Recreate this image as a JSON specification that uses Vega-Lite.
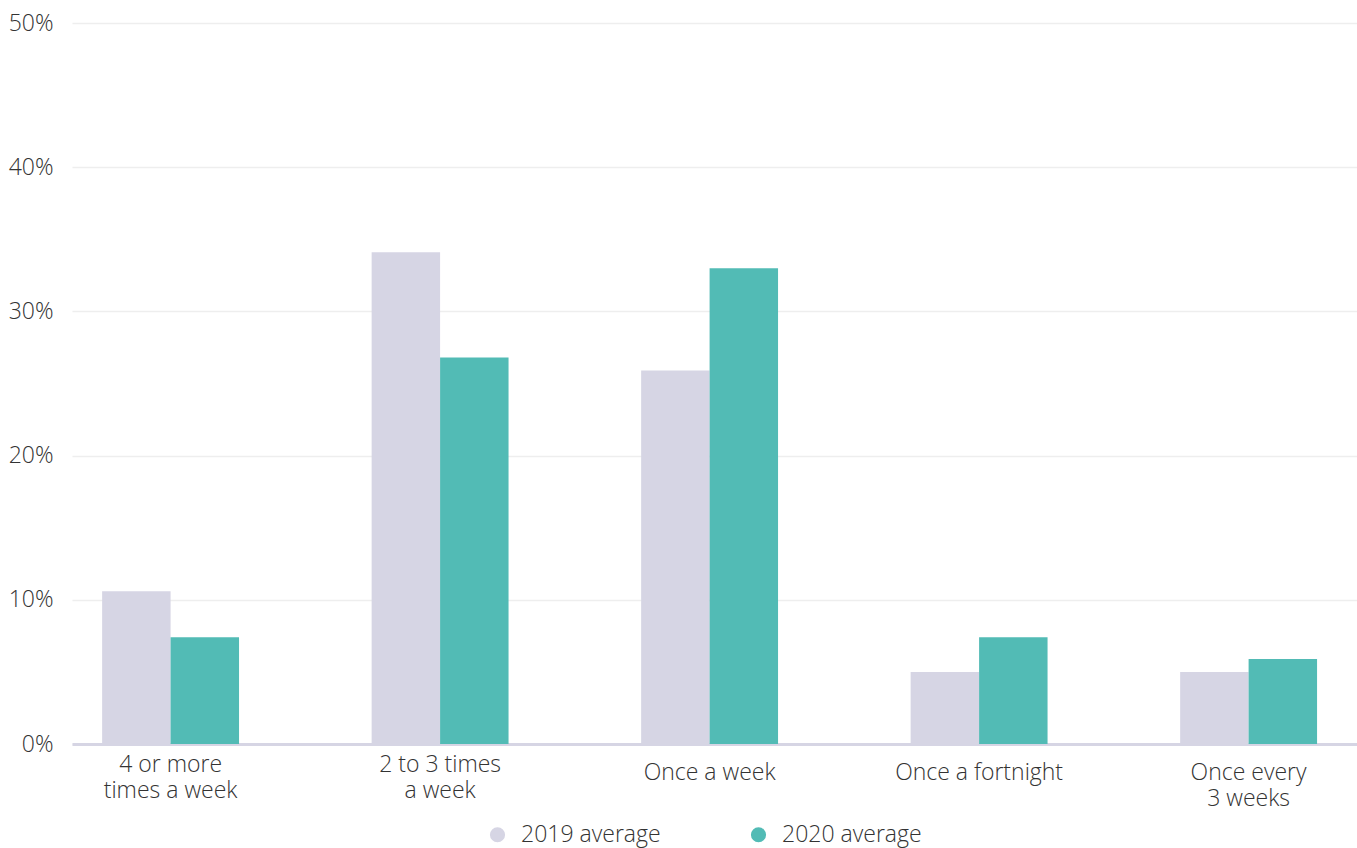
{
  "$schema": "https://vega.github.io/schema/vega-lite/v6.json",
  "autosize": {"type": "none"},
  "padding": {"left": 72, "top": 23, "right": 0, "bottom": 104},
  "width": 1285,
  "height": 721,
  "background": "#ffffff",
  "config": {
    "font": "Open Sans",
    "view": {"stroke": null}
  },
  "data": {
    "values": [
      {"frequency": "4 or more times a week", "series": "2019 average", "value": 10.6},
      {"frequency": "4 or more times a week", "series": "2020 average", "value": 7.4},
      {"frequency": "2 to 3 times a week", "series": "2019 average", "value": 34.1},
      {"frequency": "2 to 3 times a week", "series": "2020 average", "value": 26.8},
      {"frequency": "Once a week", "series": "2019 average", "value": 25.9},
      {"frequency": "Once a week", "series": "2020 average", "value": 33.0},
      {"frequency": "Once a fortnight", "series": "2019 average", "value": 5.0},
      {"frequency": "Once a fortnight", "series": "2020 average", "value": 7.4},
      {"frequency": "Once every 3 weeks", "series": "2019 average", "value": 5.0},
      {"frequency": "Once every 3 weeks", "series": "2020 average", "value": 5.9}
    ]
  },
  "mark": {"type": "bar"},
  "encoding": {
    "x": {
      "field": "frequency",
      "type": "nominal",
      "sort": null,
      "title": null,
      "scale": {"paddingInner": 0.492, "paddingOuter": 0.13, "align": 0.43},
      "axis": {
        "labelAngle": 0,
        "ticks": false,
        "domainColor": "#d6d5e4",
        "domainWidth": 3,
        "labelFontSize": 23,
        "labelFontWeight": 300,
        "labelColor": "#333333",
        "labelBaseline": "top",
        "labelLineHeight": 26,
        "labelPadding": {"condition": {"test": "datum.value == '4 or more times a week' || datum.value == '2 to 3 times a week'", "value": 9}, "value": 17},
        "labelExpr": "datum.value == '4 or more times a week' ? ['4 or more', 'times a week'] : datum.value == '2 to 3 times a week' ? ['2 to 3 times', 'a week'] : datum.value == 'Once every 3 weeks' ? ['Once every', '3 weeks'] : datum.value"
      }
    },
    "xOffset": {"field": "series", "type": "nominal", "scale": {"paddingInner": 0, "paddingOuter": 0}},
    "y": {
      "field": "value",
      "type": "quantitative",
      "title": null,
      "scale": {"domain": [0, 50]},
      "axis": {
        "values": [0, 10, 20, 30, 40, 50],
        "labelExpr": "datum.value + '%'",
        "domain": false,
        "ticks": false,
        "labelPadding": 19,
        "labelFontSize": 23,
        "labelFontWeight": 300,
        "labelColor": "#333333",
        "gridColor": "#eeeeee",
        "gridWidth": 1.5
      }
    },
    "color": {
      "field": "series",
      "type": "nominal",
      "title": null,
      "scale": {"domain": ["2019 average", "2020 average"], "range": ["#d6d5e4", "#52bbb5"]},
      "legend": {
        "orient": "none",
        "direction": "horizontal",
        "legendX": 414,
        "legendY": 800,
        "symbolType": "circle",
        "symbolSize": 230,
        "symbolOpacity": 1,
        "symbolStrokeWidth": 0,
        "labelFontSize": 23,
        "labelFontWeight": 300,
        "labelColor": "#333333",
        "labelOffset": 12,
        "columnPadding": 86
      }
    }
  }
}
